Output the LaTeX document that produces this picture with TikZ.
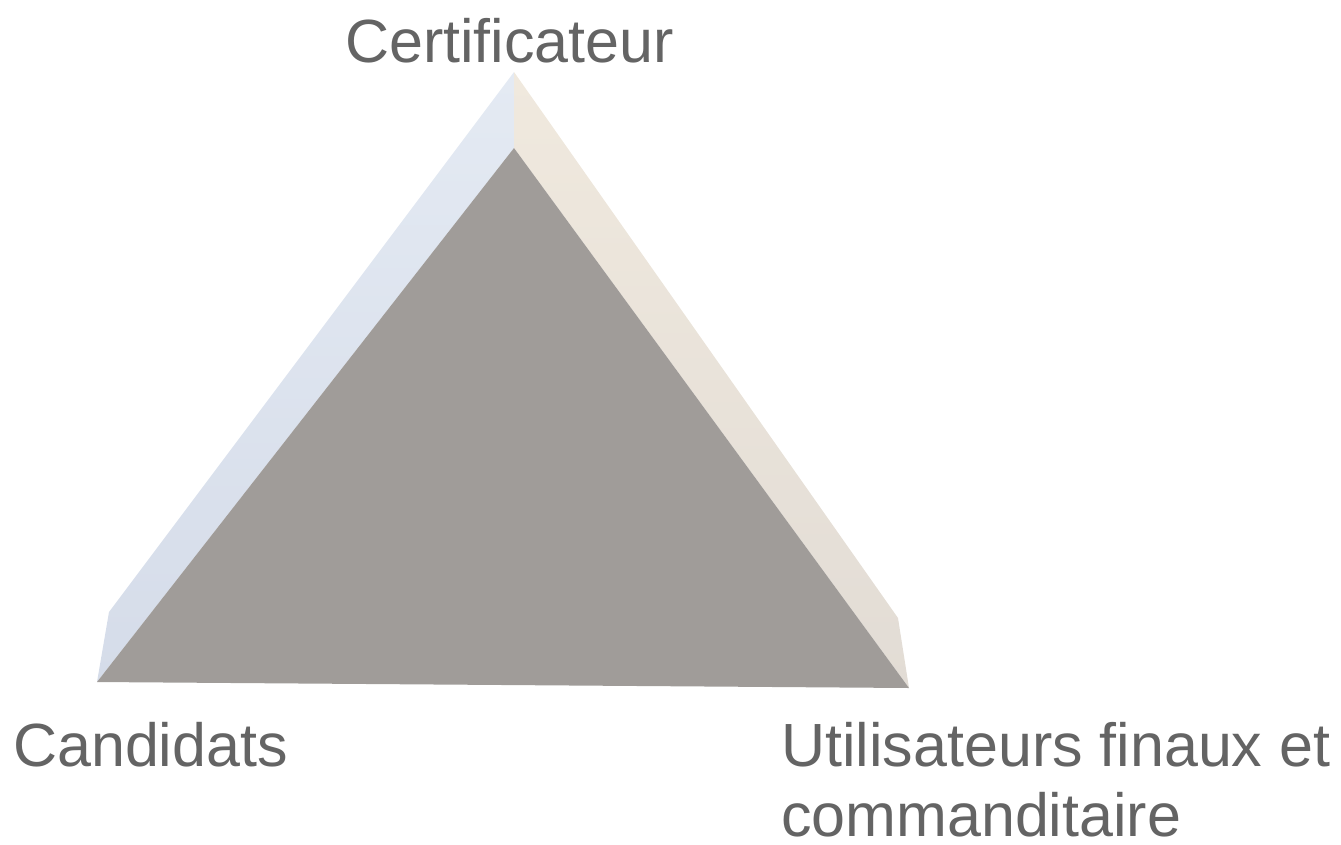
\documentclass[tikz,border=0pt]{standalone}
\usepackage{fontspec}
\setmainfont{Liberation Sans}
\definecolor{txt}{HTML}{646464}
\definecolor{face}{HTML}{A09C99}
\definecolor{blueA}{HTML}{E4EAF3}
\definecolor{blueB}{HTML}{D5DCE9}
\definecolor{beigeA}{HTML}{F0E9DE}
\definecolor{beigeB}{HTML}{E2DCD5}
\begin{document}
\begin{tikzpicture}[x=1pt,y=-1pt,
  lbl/.style={text=txt,font=\fontsize{61}{70}\selectfont,inner sep=0pt,align=left}]
\useasboundingbox (0,0) rectangle (1341,844);
\coordinate (top) at (514,72);
\coordinate (itop) at (514,148);
\coordinate (bl) at (97,682);
\coordinate (blt) at (109,612);
\coordinate (br) at (909,688);
\coordinate (brt) at (898,618);
\shade[top color=blueA,bottom color=blueB] (top) -- (itop) -- (bl) -- (blt) -- cycle;
\shade[top color=beigeA,bottom color=beigeB] (top) -- (brt) -- (br) -- (itop) -- cycle;
\fill[face] (itop) -- (bl) -- (br) -- cycle;
\node[lbl,anchor=base west] (cert) at (345,62) {Certificateur};
\node[lbl,anchor=base west] (cand) at (13,766) {Candidats};
\node[lbl,anchor=base west] (util) at (781,836) {Utilisateurs finaux et\\commanditaire};
\end{tikzpicture}
\end{document}
